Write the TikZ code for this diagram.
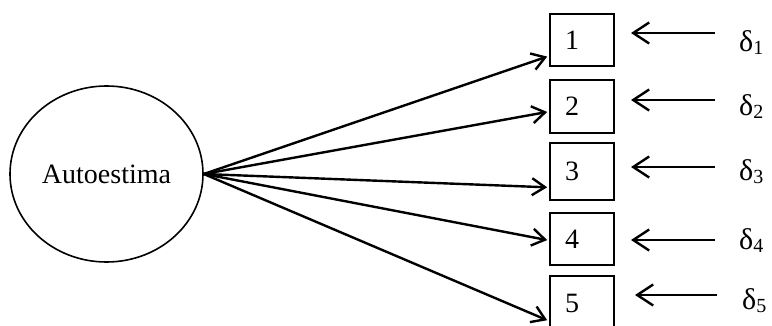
\documentclass[tikz,border=0pt]{standalone}
\usepackage{fontspec}
\setmainfont{Liberation Serif}
\usetikzlibrary{arrows.meta,shapes.geometric,calc}
\newcommand{\errsym}[1]{{\fontsize{30}{34}\selectfont δ}\raisebox{-3pt}{\fontsize{20}{24}\selectfont #1}}
\begin{document}
\begin{tikzpicture}[x=1pt,y=-1pt,
  every node/.style={font=\fontsize{28}{32}\selectfont},
  latent/.style={draw,ellipse,line width=1.6pt,minimum width=193pt,minimum height=176pt,inner sep=0pt},
  itembox/.style={draw,line width=1.6pt,minimum width=64pt,text width=34pt,inner xsep=15pt,align=left},
  loadarrow/.style={line width=2.4pt,-{Straight Barb[length=13pt,width=17pt,line width=2.4pt]}},
  errarrow/.style={line width=2.4pt,-{Straight Barb[length=16pt,width=21pt,line width=2.4pt]}},
  errlabel/.style={anchor=west,inner sep=0pt}]
\useasboundingbox (0,0) rectangle (772,326);
\node[latent] (lat) at (106.5,174) {Autoestima};
\node[itembox,minimum height=52pt] (b1) at (582,40) {1};
\node[itembox,minimum height=53pt] (b2) at (582,106.5) {2};
\node[itembox,minimum height=57pt] (b3) at (582,171.5) {3};
\node[itembox,minimum height=52pt] (b4) at (582,239) {4};
\node[itembox,minimum height=54pt] (b5) at (582,303) {5};
\foreach \i/\f in {1/0.81,2/0.6,3/0.77,4/0.52,5/0.81}{
  \coordinate (t\i) at ($(b\i.north west)!\f!(b\i.south west)$);
  \draw[loadarrow] (lat.east) -- ([xshift=-2pt]t\i);
}
\node[errlabel] (d1) at (739,43) {\errsym{1}};
\node[errlabel] (d2) at (739,107) {\errsym{2}};
\node[errlabel] (d3) at (739,172) {\errsym{3}};
\node[errlabel] (d4) at (739,241) {\errsym{4}};
\node[errlabel] (d5) at (742,301) {\errsym{5}};
\coordinate (s1) at (715,33);  \coordinate (e1) at (631,33);
\coordinate (s2) at (715,100); \coordinate (e2) at (631,100);
\coordinate (s3) at (715,167); \coordinate (e3) at (631,167);
\coordinate (s4) at (715,240); \coordinate (e4) at (631,240);
\coordinate (s5) at (717,295); \coordinate (e5) at (635,295);
\foreach \i in {1,...,5}{\draw[errarrow] (s\i) -- (e\i);}
\end{tikzpicture}
\end{document}
